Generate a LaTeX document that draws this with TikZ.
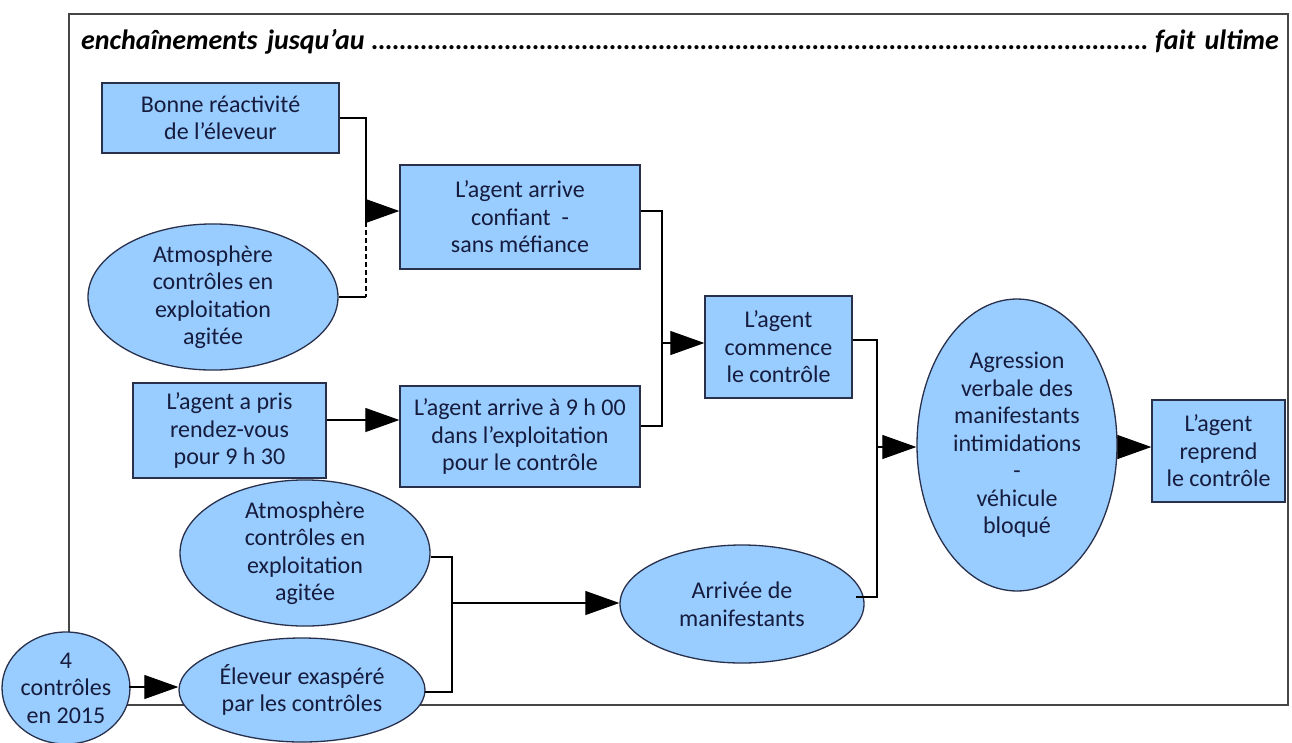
\documentclass[tikz,border=0pt]{standalone}
\usepackage{fontspec}
\setmainfont{Carlito}
\usetikzlibrary{shapes.geometric,arrows.meta}
\definecolor{fillblue}{RGB}{153,204,255}
\definecolor{edgecol}{RGB}{40,48,75}
\definecolor{txtcol}{RGB}{22,28,62}
\definecolor{framecol}{RGB}{70,70,70}
\tikzset{
  base/.style={fill=fillblue,draw=edgecol,line width=1.3pt,text=txtcol,align=center,inner sep=0pt,
    font=\fontsize{24}{27.5}\selectfont},
  boxnode/.style={base,rectangle},
  ellnode/.style={base,ellipse},
  conn/.style={draw=black,line width=1.1pt},
  arr/.style={conn,-{Triangle[length=34pt,width=24pt]}},
}
\begin{document}
\begin{tikzpicture}[x=1pt,y=-1pt]
\useasboundingbox (0,0) rectangle (1292,742);
% frame
\draw[framecol,line width=1.5pt] (69,14) rectangle (1288,705);
\node[anchor=base west,text width=1198pt,inner sep=0pt,text=black,
  font=\fontsize{28}{30}\selectfont\bfseries\itshape] (title) at (81,49)
  {enchaînements jusqu'au\hskip 4pt\cleaders\hbox to 7pt{\hss.\hss}\hfill\hskip 4pt fait ultime};
% nodes
\node[boxnode,minimum width=237pt,minimum height=70pt] (b1) at (220.5,118) {Bonne réactivité\\de l’éleveur};
\node[ellnode,minimum width=250pt,minimum height=128pt] (e1) at (213,297) {Atmosphère\\contrôles en\\exploitation\\agitée};
\node[boxnode,minimum width=240pt,minimum height=104pt] (b2) at (520,217) {L’agent arrive\\confiant\ \ -\\sans méfiance};
\node[boxnode,minimum width=193pt,minimum height=95pt] (b3) at (229.5,430.5) {L’agent a pris\\rendez-vous\\pour 9 h 30};
\node[boxnode,minimum width=240pt,minimum height=101pt] (b4) at (520,436.5) {L’agent arrive à 9 h 00\\dans l’exploitation\\pour le contrôle};
\node[boxnode,minimum width=147pt,minimum height=102pt] (b5) at (778.5,347) {L’agent\\commence\\le contrôle};
\node[ellnode,minimum width=250pt,minimum height=130pt] (e2) at (305,553) {Atmosphère\\contrôles en\\exploitation\\agitée};
\node[ellnode,minimum width=246pt,minimum height=104pt] (e3) at (302,690) {Éleveur exaspéré\\par les contrôles};
\node[ellnode,minimum width=118pt,minimum height=112pt] (e4) at (66,688) {4\\contrôles\\en 2015};
\node[ellnode,minimum width=244pt,minimum height=118pt] (e5) at (742,604) {Arrivée de\\manifestants};
\node[ellnode,minimum width=200pt,minimum height=292pt] (e6) at (1017,445) {Agression\\verbale des\\manifestants\\intimidations\\-\\véhicule\\bloqué};
\node[boxnode,minimum width=133pt,minimum height=102pt] (b6) at (1218.5,451) {L’agent\\reprend\\le contrôle};
% junction coordinates
\coordinate (j1) at (366,211);
\coordinate (j1d) at (366,222);
\coordinate (j2) at (662,343);
\coordinate (j3) at (877,447);
\coordinate (j6) at (452,603);
% connector 1
\draw[conn] (b1.east) -| (j1d);
\draw[conn,dash pattern=on 5pt off 3pt] (j1d) -- (j1d |- e1.east);
\draw[conn] (e1.east) -- (j1d |- e1.east);
\draw[arr] (j1) -- (b2.west |- j1);
% connector 2
\draw[conn] (b2.east |- j1) -| (j2) |- (b4.east |- 0,426);
\draw[arr] (j2) -- (b5.west |- j2);
% connector 3
\draw[conn] (b5.east |- 0,340) -| (j3) |- ([xshift=-9pt]e5.east |- 0,597);
\draw[arr] (j3) -- (e6.west |- j3);
% connector 4
\draw[arr] (e6.east |- 0,447) -- (b6.west |- 0,447);
% connector 5
\draw[arr] (b3.east |- 0,420) -- (b4.west |- 0,420);
% connector 6
\draw[conn] (e2.east |- 0,557) -| (j6) |- ([xshift=-1pt]e3.east |- 0,692);
\draw[arr] (j6) -- (e5.west |- j6);
% connector 7
\draw[arr] ([xshift=-2pt]e4.east |- 0,687) -- (e3.west |- 0,687);
\end{tikzpicture}
\end{document}
